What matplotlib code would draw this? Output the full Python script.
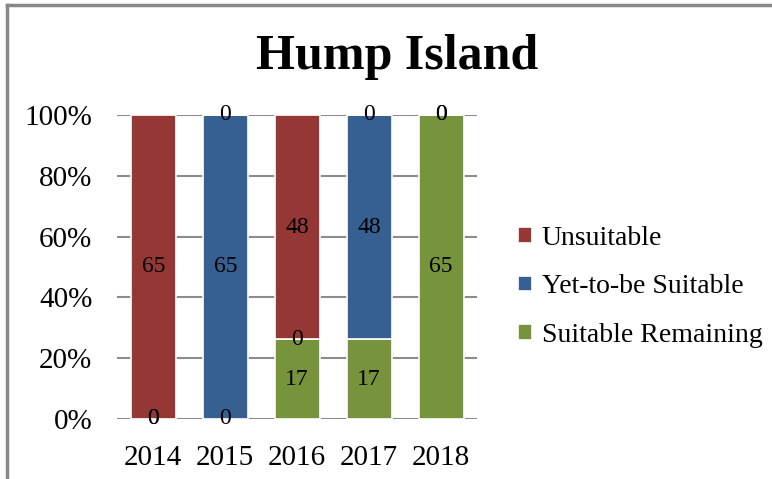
import numpy as np
import matplotlib.pyplot as plt
from matplotlib.lines import Line2D

plt.rcParams['font.family'] = ['Liberation Serif', 'DejaVu Serif']

years = ["2014", "2015", "2016", "2017", "2018"]
series = ["Suitable Remaining", "Yet-to-be Suitable", "Unsuitable"]
suitable = [0, 0, 17, 17, 65]
yet_to_be = [0, 65, 0, 48, 0]
unsuitable = [65, 0, 48, 0, 0]
colors = ["#77933C", "#376092", "#953735"]

fig = plt.figure(figsize=(7.72, 4.79), dpi=100)
ax = fig.add_axes([0.152, 0.1253, 0.466, 0.6347])

data = np.array([suitable, yet_to_be, unsuitable], dtype=float)
totals = data.sum(axis=0)
pct = data / totals * 100
x = np.arange(len(years))

bottom = np.zeros(len(years))
handles = []
for vals, raw, name, c in zip(pct, data, series, colors):
    b = ax.bar(x, vals, 0.625, bottom=bottom, color=c, edgecolor="white",
               linewidth=1.2, label=name, zorder=3)
    handles.append(b)
    for xi, v, r, bt in zip(x, vals, raw, bottom):
        ax.text(xi, bt + v / 2, f"{int(r)}", ha="center", va="center",
                fontsize=17, zorder=4)
    bottom += vals

ax.set_xlim(-0.5, 4.5)
ax.set_ylim(0, 100)
ax.set_yticks(range(0, 101, 20))
ax.set_yticklabels([f"{v}%" for v in range(0, 101, 20)], fontsize=21)
ax.set_xticks(x)
ax.set_xticklabels(years, fontsize=21)
ax.tick_params(length=0)
ax.tick_params(axis="x", pad=19)
ax.tick_params(axis="y", pad=18)
ax.grid(axis="y", color="#8c8c8c", linewidth=1.5, zorder=0)
for s in ax.spines.values():
    s.set_visible(False)

fig.text(0.514, 0.88, "Hump Island", ha="center", va="center",
         fontsize=36, fontweight="bold")

fig.legend(handles[::-1], series[::-1], loc="center left",
           bbox_to_anchor=(0.671, 0.401), frameon=False, fontsize=20,
           handlelength=0.5, handleheight=0.5, handletextpad=0.35,
           labelspacing=0.85, borderpad=0, borderaxespad=0)

# outer chart frame (top and left edges visible)
fig.add_artist(Line2D([0.009, 1.0], [0.99, 0.99], color="#888888", linewidth=2.5))
fig.add_artist(Line2D([0.0095, 0.0095], [0.0, 0.99], color="#888888", linewidth=2.5))

fig.savefig("out.png", dpi=100)
